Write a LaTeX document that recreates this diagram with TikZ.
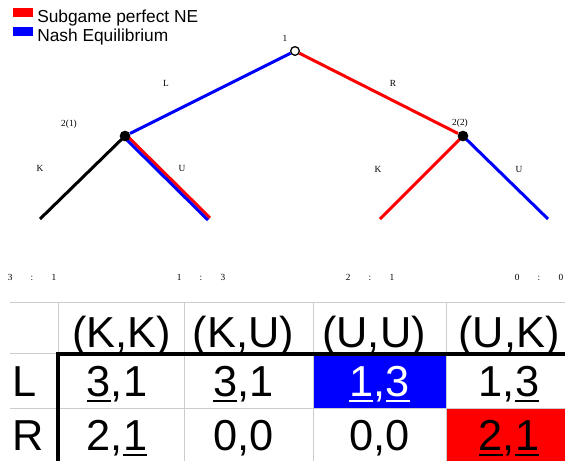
\documentclass[tikz,border=0pt]{standalone}
\usepackage{fontspec}
\setmainfont{Liberation Serif}
\newfontfamily\sansfont{Liberation Sans}
\usepackage{tikz}
\usetikzlibrary{positioning,backgrounds}

% underline with a rule that scales with the font
\newcommand\ul[1]{\setbox0\hbox{#1}\rlap{\rule[-0.14em]{\wd0}{0.055em}}\box0}
% payoff pair under a leaf
\newcommand\pay[2]{#1\hspace{13.7pt}:\hspace{13.7pt}#2}

\begin{document}
\begin{tikzpicture}[
  x=0.75pt, y=-0.75pt,
  font=\fontsize{7}{8}\selectfont,
  edge/.style={line width=2.25pt},
  nedge/.style={edge, blue},
  sedge/.style={edge, red},
  dot/.style={circle, fill=black, inner sep=0pt, minimum size=8pt},
  odot/.style={circle, draw=black, fill=white, line width=1pt,
               inner sep=0pt, minimum size=6.5pt},
  lbl/.style={inner sep=0pt},
  swatch/.style={inner sep=0pt, minimum width=15pt, minimum height=6.75pt},
  legend/.style={font=\sansfont\fontsize{13}{15}\selectfont, inner sep=0pt,
                 anchor=base west},
  cell/.style={font=\sansfont\fontsize{32.5}{36}\selectfont, inner sep=0pt,
               anchor=base},
  grid/.style={draw=black!20, line width=0.75pt},
  bar/.style={draw=black, line width=2.6pt}]
\useasboundingbox (0,0) rectangle (565,461);
\clip (0,0) rectangle (565,461);
% ---- legend ----
\node[swatch, fill=red] (spsw) at (23,12.5) {};
\node[legend] (sptxt) at (37,22) {Subgame perfect NE};
\node[swatch, fill=blue] (nesw) at (23,31.5) {};
\node[legend] (netxt) at (37,41.5) {Nash Equilibrium};
% ---- game tree ----
\node[odot] (root) at (295,51) {};
\node[dot] (p2a) at (125,136) {};
\node[dot] (p2b) at (463,136) {};
\coordinate (aK) at (40,219);
\coordinate (aU) at (209,219);
\coordinate (bK) at (380,219);
\coordinate (bU) at (548,219);
\begin{scope}[on background layer]
\draw[nedge] (root) -- (p2a);
\draw[sedge] (root) -- (p2b);
\draw[edge] (p2a.center) -- (aK);
\draw[sedge, transform canvas={shift={(1.05,-1.06)}}] (p2a.center) -- (aU);
\draw[nedge, transform canvas={shift={(-1.05,1.06)}}] (p2a.center) -- (aU);
\draw[sedge] (p2b.center) -- (bK);
\draw[nedge] (p2b.center) -- (bU);
\end{scope}
\node[lbl] (root-l) at (285,38) {1};
\node[lbl] (p2a-l) at (69,124) {2(1)};
\node[lbl] (p2b-l) at (460,123) {2(2)};
\node[lbl] (L-l) at (166,83) {L};
\node[lbl] (R-l) at (393,83) {R};
\node[lbl] (aK-l) at (40,168) {K};
\node[lbl] (aU-l) at (182,168) {U};
\node[lbl] (bK-l) at (378,169) {K};
\node[lbl] (bU-l) at (519,169) {U};
\node[lbl] (aK-p) at (32,277) {\pay{3}{1}};
\node[lbl] (aU-p) at (201,277) {\pay{1}{3}};
\node[lbl] (bK-p) at (370,277) {\pay{2}{1}};
\node[lbl] (bU-p) at (539,277) {\pay{0}{0}};
% ---- strategic form ----
\fill[blue] (313,353) rectangle (446,408);
\fill[red] (446,408) rectangle (575,470);
\foreach \y in {302,353,408} \draw[grid] (10,\y) -- (575,\y);
\foreach \x in {58,184,313,446} \draw[grid] (\x,302) -- (\x,470);
\draw[bar] (58,470) -- (58,354) -- (575,354);
\node[cell] (hKK) at (121.5,347) {(K,K)};
\node[cell] (hKU) at (243.5,347) {(K,U)};
\node[cell] (hUU) at (374,347) {(U,U)};
\node[cell] (hUK) at (509,347) {(U,K)};
\node[cell, anchor=base west] (rL) at (12,396) {L};
\node[cell] (LKK) at (117,396) {\ul{3},1};
\node[cell] (LKU) at (243.5,396) {\ul{3},1};
\node[cell, text=white] (LUU) at (379.5,396) {\ul{1},\ul{3}};
\node[cell] (LUK) at (509,396) {1,\ul{3}};
\node[cell, anchor=base west] (rR) at (12,450) {R};
\node[cell] (RKK) at (117,450) {2,\ul{1}};
\node[cell] (RKU) at (243.5,450) {0,0};
\node[cell] (RUU) at (379.5,450) {0,0};
\node[cell] (RUK) at (509,450) {\ul{2},\ul{1}};
\end{tikzpicture}
\end{document}
